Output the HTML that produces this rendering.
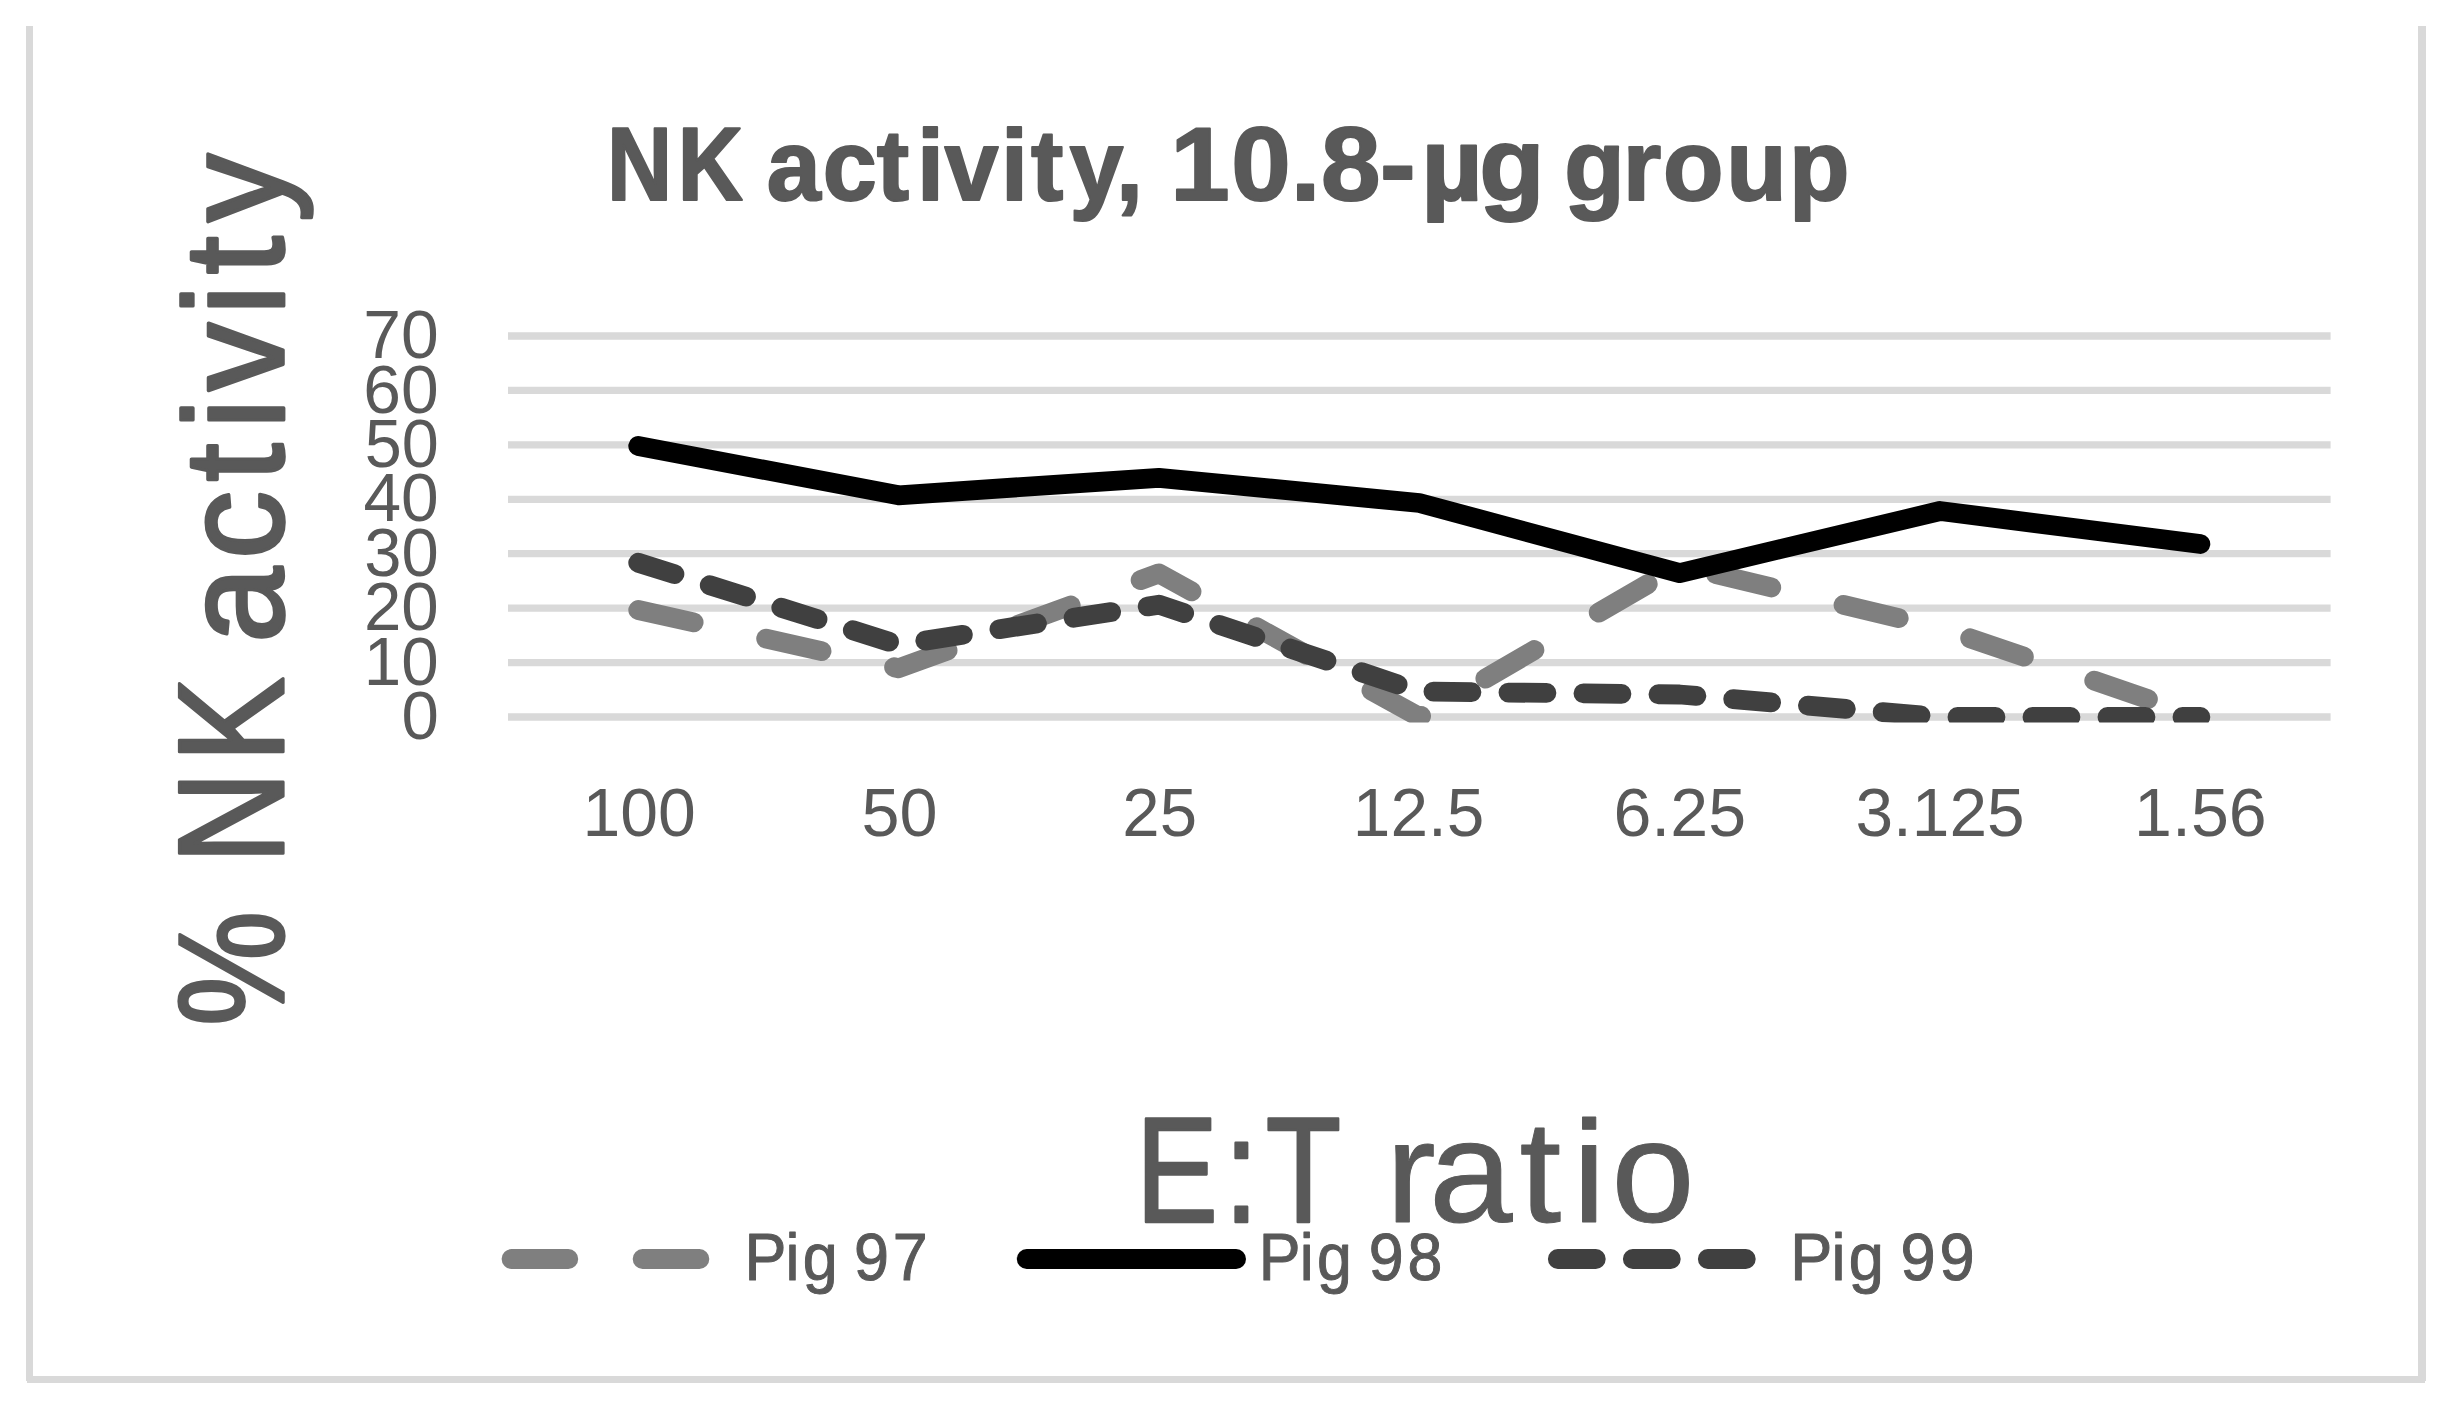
<!DOCTYPE html>
<html lang="en"><head><meta charset="utf-8"><title>NK activity, 10.8-µg group</title>
<style>html,body{margin:0;padding:0;background:#fff}body{width:2456px;height:1408px;overflow:hidden}svg{display:block}</style></head>
<body>
<svg width="2456" height="1408" viewBox="0 0 2456 1408" font-family="'Liberation Sans', sans-serif" fill="#595959" style="font-kerning:none">
<rect width="2456" height="1408" fill="#fff"/>
<g fill="#d9d9d9"><rect x="26" y="26" width="7" height="1355"/><rect x="2418" y="26" width="8" height="1355"/><rect x="27" y="1376" width="2398" height="7"/></g>
<g stroke="#d9d9d9" stroke-width="7.3">
<line x1="508.0" x2="2330.6" y1="717.00" y2="717.00"/>
<line x1="508.0" x2="2330.6" y1="662.57" y2="662.57"/>
<line x1="508.0" x2="2330.6" y1="608.14" y2="608.14"/>
<line x1="508.0" x2="2330.6" y1="553.71" y2="553.71"/>
<line x1="508.0" x2="2330.6" y1="499.29" y2="499.29"/>
<line x1="508.0" x2="2330.6" y1="444.86" y2="444.86"/>
<line x1="508.0" x2="2330.6" y1="390.43" y2="390.43"/>
<line x1="508.0" x2="2330.6" y1="336.00" y2="336.00"/>
</g>
<clipPath id="pc"><rect x="488.0" y="300" width="1862.6" height="422.6"/></clipPath>
<g clip-path="url(#pc)" fill="none" stroke-width="19.8" stroke-linecap="round" stroke-linejoin="round">
<polyline points="638.2,610.0 898.6,668.3 1158.9,573.4 1419.3,717.0 1679.7,565.5 1940.0,628.0 2200.4,717.0" stroke="#7f7f7f" stroke-dasharray="56.80 74.30"/>
<polyline points="638.2,446.0 898.6,495.3 1158.9,477.8 1419.3,503.0 1679.7,573.1 1940.0,511.0 2200.4,544.0" stroke="#000"/>
<polyline points="638.2,562.7 898.6,644.7 1158.9,604.7 1419.3,691.5 1679.7,694.5 1940.0,717.0 2200.4,717.0" stroke="#404040" stroke-dasharray="38.00 37.00"/>
</g>
<g fill="none" stroke-width="19.8" stroke-linecap="round">
<line x1="511.50" x2="720.10" y1="1259" y2="1259" stroke="#7f7f7f" stroke-dasharray="56.80 74.30"/>
<line x1="1026.70" x2="1236.10" y1="1259" y2="1259" stroke="#000"/>
<line x1="1557.80" x2="1760.10" y1="1259" y2="1259" stroke="#404040" stroke-dasharray="38.00 37.00"/>
</g>
<text transform="translate(0 199.60) scale(0.8655 1)" x="701.25 783.20" font-size="104.22" font-weight="bold" stroke="#595959" stroke-width="2.0" vector-effect="non-scaling-stroke" stroke-linejoin="round">NK</text>
<text transform="translate(0 199.60) scale(0.9777 1)" x="784.34 841.42 896.77 937.81 966.04 1023.93 1054.43 1093.80 1141.51" font-size="99.37" font-weight="bold" stroke="#595959" stroke-width="2.0" vector-effect="non-scaling-stroke" stroke-linejoin="round">activity,</text>
<text transform="translate(0 199.60) scale(1.0257 1)" x="1140.87 1200.30 1258.41 1287.97 1345.33 1385.71 1442.13" font-size="104.22" font-weight="bold" stroke="#595959" stroke-width="2.0" vector-effect="non-scaling-stroke" stroke-linejoin="round">10.8-µg</text>
<text transform="translate(0 199.60) scale(0.9970 1)" x="1568.91 1627.62 1668.12 1731.36 1794.32" font-size="99.37" font-weight="bold" stroke="#595959" stroke-width="2.0" vector-effect="non-scaling-stroke" stroke-linejoin="round">group</text>
<text transform="translate(401.38 739.10) scale(0.9706 1)" font-size="69.19">0</text>
<text transform="translate(363.87 684.67) scale(0.9727 1)" font-size="69.19">10</text>
<text transform="translate(363.92 630.24) scale(0.9721 1)" font-size="69.19">20</text>
<text transform="translate(364.25 575.81) scale(0.9676 1)" font-size="69.19">30</text>
<text transform="translate(363.45 521.39) scale(0.9784 1)" font-size="69.19">40</text>
<text transform="translate(364.63 466.96) scale(0.9624 1)" font-size="69.19">50</text>
<text transform="translate(363.36 412.53) scale(0.9796 1)" font-size="69.19">60</text>
<text transform="translate(363.32 358.10) scale(0.9801 1)" font-size="69.19">70</text>
<text transform="translate(582.53 835.90) scale(0.9817 1)" font-size="69.19">100</text>
<text transform="translate(861.56 835.90) scale(0.9890 1)" font-size="69.19">50</text>
<text transform="translate(1122.32 835.90) scale(0.9706 1)" font-size="69.19">25</text>
<text transform="translate(1352.85 835.90) scale(0.9772 1)" font-size="69.19">12.5</text>
<text transform="translate(1613.44 835.90) scale(0.9849 1)" font-size="69.19">6.25</text>
<text transform="translate(1855.42 835.90) scale(0.9779 1)" font-size="69.19">3.125</text>
<text transform="translate(2134.11 835.90) scale(0.9846 1)" font-size="69.19">1.56</text>
<text transform="translate(0 1280.40) scale(0.9417 1)" x="790.69 834.18 852.39 885.52 906.98 947.98" font-size="66.72" stroke="#595959" stroke-width="1.0" vector-effect="non-scaling-stroke" stroke-linejoin="round">Pig 97</text>
<text transform="translate(0 1280.40) scale(0.9393 1)" x="1340.06 1383.75 1402.17 1435.54 1457.15 1498.47" font-size="66.72" stroke="#595959" stroke-width="1.0" vector-effect="non-scaling-stroke" stroke-linejoin="round">Pig 98</text>
<text transform="translate(0 1280.40) scale(0.9456 1)" x="1893.17 1936.76 1955.06 1988.30 2009.84 2051.02" font-size="66.72" stroke="#595959" stroke-width="1.0" vector-effect="non-scaling-stroke" stroke-linejoin="round">Pig 99</text>
<text transform="translate(0 1221.65) scale(0.8202 1)" x="1384.83 1492.75 1543.20" font-size="150.44" stroke="#595959" stroke-width="2.5" vector-effect="non-scaling-stroke" stroke-linejoin="round">E:T</text>
<text transform="translate(0 1222.40) scale(1.0311 1)" x="1343.85 1385.99 1473.70 1524.96 1562.73" font-size="145.56" stroke="#595959" stroke-width="1.0" vector-effect="non-scaling-stroke" stroke-linejoin="round">ratio</text>
<text transform="translate(283.40 0) rotate(-90) scale(0.8632 1)" x="-1188.55" font-size="149.71" stroke="#595959" stroke-width="3.0" vector-effect="non-scaling-stroke" stroke-linejoin="round">%</text>
<text transform="translate(283.40 0) rotate(-90) scale(0.8559 1)" x="-1009.60 -890.92" font-size="149.71" stroke="#595959" stroke-width="3.0" vector-effect="non-scaling-stroke" stroke-linejoin="round">NK</text>
<text transform="translate(283.15 0) rotate(-90) scale(0.9684 1)" x="-663.64 -577.27 -497.21 -443.08 -403.79 -325.26 -283.25 -229.21" font-size="141.01" stroke="#595959" stroke-width="3.5" vector-effect="non-scaling-stroke" stroke-linejoin="round">activity</text>
</svg>
</body></html>
